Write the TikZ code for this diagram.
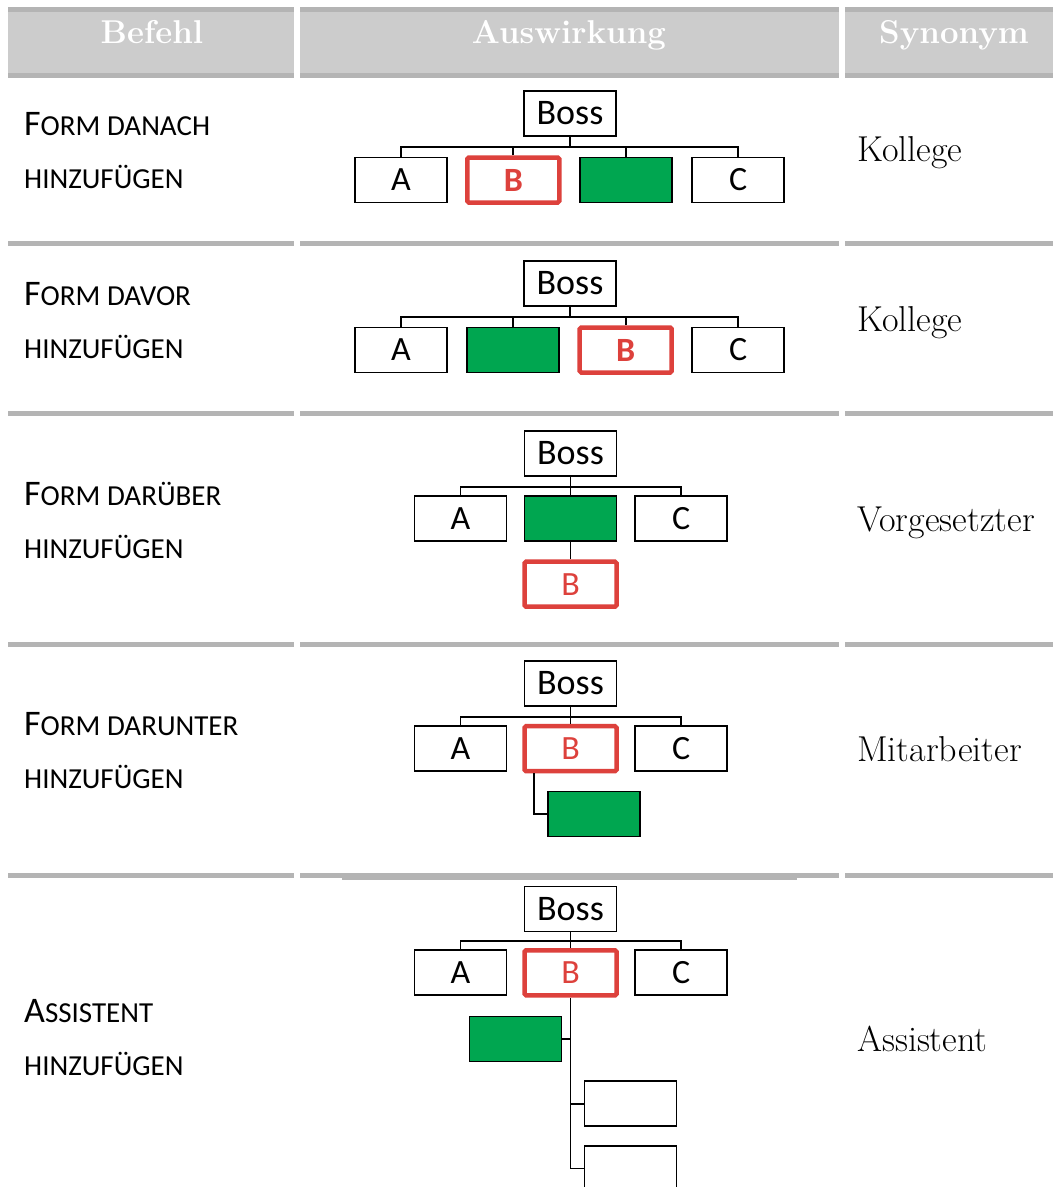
\documentclass[tikz,border=0pt]{standalone}
\usepackage{fontspec}
\newfontfamily\calib{Carlito}
\usetikzlibrary{calc}
\definecolor{hdr}{RGB}{204,204,204}
\definecolor{sepc}{RGB}{180,180,180}
\definecolor{redb}{RGB}{221,65,60}
\definecolor{greenb}{RGB}{0,166,80}
\newcommand\bigF[1]{{\fontsize{36}{36}\selectfont #1}}
\begin{document}
\begin{tikzpicture}[x=1pt,y=-1pt,
  box/.style={draw=black,line width=1.8pt,minimum width=92pt,minimum height=45pt,inner sep=0pt,
              font=\calib\fontsize{34}{34}\selectfont},
  bossbox/.style={box,font=\calib\fontsize{36}{36}\selectfont},
  redbox/.style={box,draw=redb,line width=4.5pt,text=redb,rounded corners=1.5pt},
  greenbox/.style={box,fill=greenb},
  conn/.style={draw=black,line width=1.8pt},
  hdrtext/.style={text=white,anchor=base,inner sep=0pt,font=\bfseries\fontsize{33}{33}\selectfont},
  cmd/.style={anchor=base west,inner sep=0pt,font=\calib\fontsize{29}{29}\selectfont},
  syn/.style={anchor=base west,inner sep=0pt,font=\fontsize{36}{36}\selectfont}]
\useasboundingbox (0,0) rectangle (1053,1187);
\fill[white] (0,0) rectangle (1053,1187);
% header
\fill[sepc] (8,7) rectangle (294,78);
\fill[sepc] (300,7) rectangle (839,78);
\fill[sepc] (845,7) rectangle (1053,78);
\fill[hdr] (8,12) rectangle (294,73);
\fill[hdr] (300,12) rectangle (839,73);
\fill[hdr] (845,12) rectangle (1053,73);
\node[hdrtext] (h1) at (152,43) {Befehl};
\node[hdrtext] (h2) at (569,43) {Auswirkung};
\node[hdrtext] (h3) at (954,43) {Synonym};
% row separators
\foreach \y in {241,411,642,873}{
  \fill[sepc] (8,\y) rectangle (294,\y+5);
  \fill[sepc] (300,\y) rectangle (839,\y+5);
  \fill[sepc] (845,\y) rectangle (1053,\y+5);
}
\fill[sepc] (342,878) rectangle (797,880);
% command column
\node[cmd] (t1a) at (24,135.7) {\bigF{F}ORM DANACH};
\node[cmd] (t1b) at (24,188.3) {HINZUFÜGEN};
\node[cmd] (t2a) at (24,305.7) {\bigF{F}ORM DAVOR};
\node[cmd] (t2b) at (24,358.3) {HINZUFÜGEN};
\node[cmd] (t3a) at (24,505) {\bigF{F}ORM DARÜBER};
\node[cmd] (t3b) at (24,558) {HINZUFÜGEN};
\node[cmd] (t4a) at (24,735) {\bigF{F}ORM DARUNTER};
\node[cmd] (t4b) at (24,788) {HINZUFÜGEN};
\node[cmd] (t5a) at (24,1022) {\bigF{A}SSISTENT};
\node[cmd] (t5b) at (24,1075) {HINZUFÜGEN};
% synonym column
\node[syn] (s1) at (857,161) {Kollege};
\node[syn] (s2) at (857,331) {Kollege};
\node[syn] (s3) at (857,531) {Vorgesetzter};
\node[syn] (s4) at (857,761) {Mitarbeiter};
\node[syn] (s5) at (857,1051) {Assistent};
% row 1
\node[bossbox] (boss1) at (570,113.5) {Boss};
\node[box] (a1) at (401,180) {A};
\node[redbox,font=\calib\bfseries\fontsize{34}{34}\selectfont] (b1) at (513.3,180) {B};
\node[greenbox] (g1) at (625.7,180) {};
\node[box] (c1) at (738.3,180) {C};
\coordinate (bus1) at (570,146.7);
\draw[conn] (boss1.south) -- (bus1);
\foreach \n in {a1,b1,g1,c1} \draw[conn] (\n.north) |- (bus1);
% row 2
\node[bossbox] (boss2) at (570,283.5) {Boss};
\node[box] (a2) at (401,350) {A};
\node[greenbox] (g2) at (513.3,350) {};
\node[redbox,font=\calib\bfseries\fontsize{34}{34}\selectfont] (b2) at (625.7,350) {B};
\node[box] (c2) at (738.3,350) {C};
\coordinate (bus2) at (570,316.7);
\draw[conn] (boss2.south) -- (bus2);
\foreach \n in {a2,g2,b2,c2} \draw[conn] (\n.north) |- (bus2);
% row 3
\node[bossbox] (boss3) at (570.5,453.3) {Boss};
\node[box] (a3) at (460.5,518.7) {A};
\node[greenbox] (g3) at (570.5,518.7) {};
\node[box] (c3) at (681.3,518.7) {C};
\node[redbox] (b3) at (570.5,584.2) {B};
\coordinate (bus3) at (570.5,486.7);
\draw[conn] (boss3.south) -- (bus3);
\foreach \n in {a3,g3,c3} \draw[conn] (\n.north) |- (bus3);
\draw[conn] (g3.south) -- (b3.north);
% row 4
\node[bossbox] (boss4) at (570.5,683.3) {Boss};
\node[box] (a4) at (460.5,748.7) {A};
\node[redbox] (b4) at (570.5,748.7) {B};
\node[box] (c4) at (681.3,748.7) {C};
\node[greenbox] (g4) at (594.2,813.9) {};
\coordinate (bus4) at (570.5,716.7);
\draw[conn] (boss4.south) -- (bus4);
\foreach \n in {a4,b4,c4} \draw[conn] (\n.north) |- (bus4);
\draw[conn] ([xshift=12pt]b4.south west) |- (g4.west);
% row 5
\node[bossbox] (boss5) at (570.5,909) {Boss};
\node[box] (a5) at (460.5,972.8) {A};
\node[redbox] (b5) at (570.5,972.8) {B};
\node[box] (c5) at (681.3,972.8) {C};
\node[greenbox] (g5) at (515.5,1039) {};
\node[box] (x1) at (630.5,1103.7) {};
\node[box] (x2) at (630.5,1168.5) {};
\coordinate (bus5) at (570.5,941);
\draw[conn] (boss5.south) -- (bus5);
\foreach \n in {a5,b5,c5} \draw[conn] (\n.north) |- (bus5);
\draw[conn] (b5.south) |- (x2.west);
\draw[conn] (g5.east) -- (g5.east -| b5.south);
\draw[conn] (x1.west) -- (x1.west -| b5.south);
\end{tikzpicture}
\end{document}
